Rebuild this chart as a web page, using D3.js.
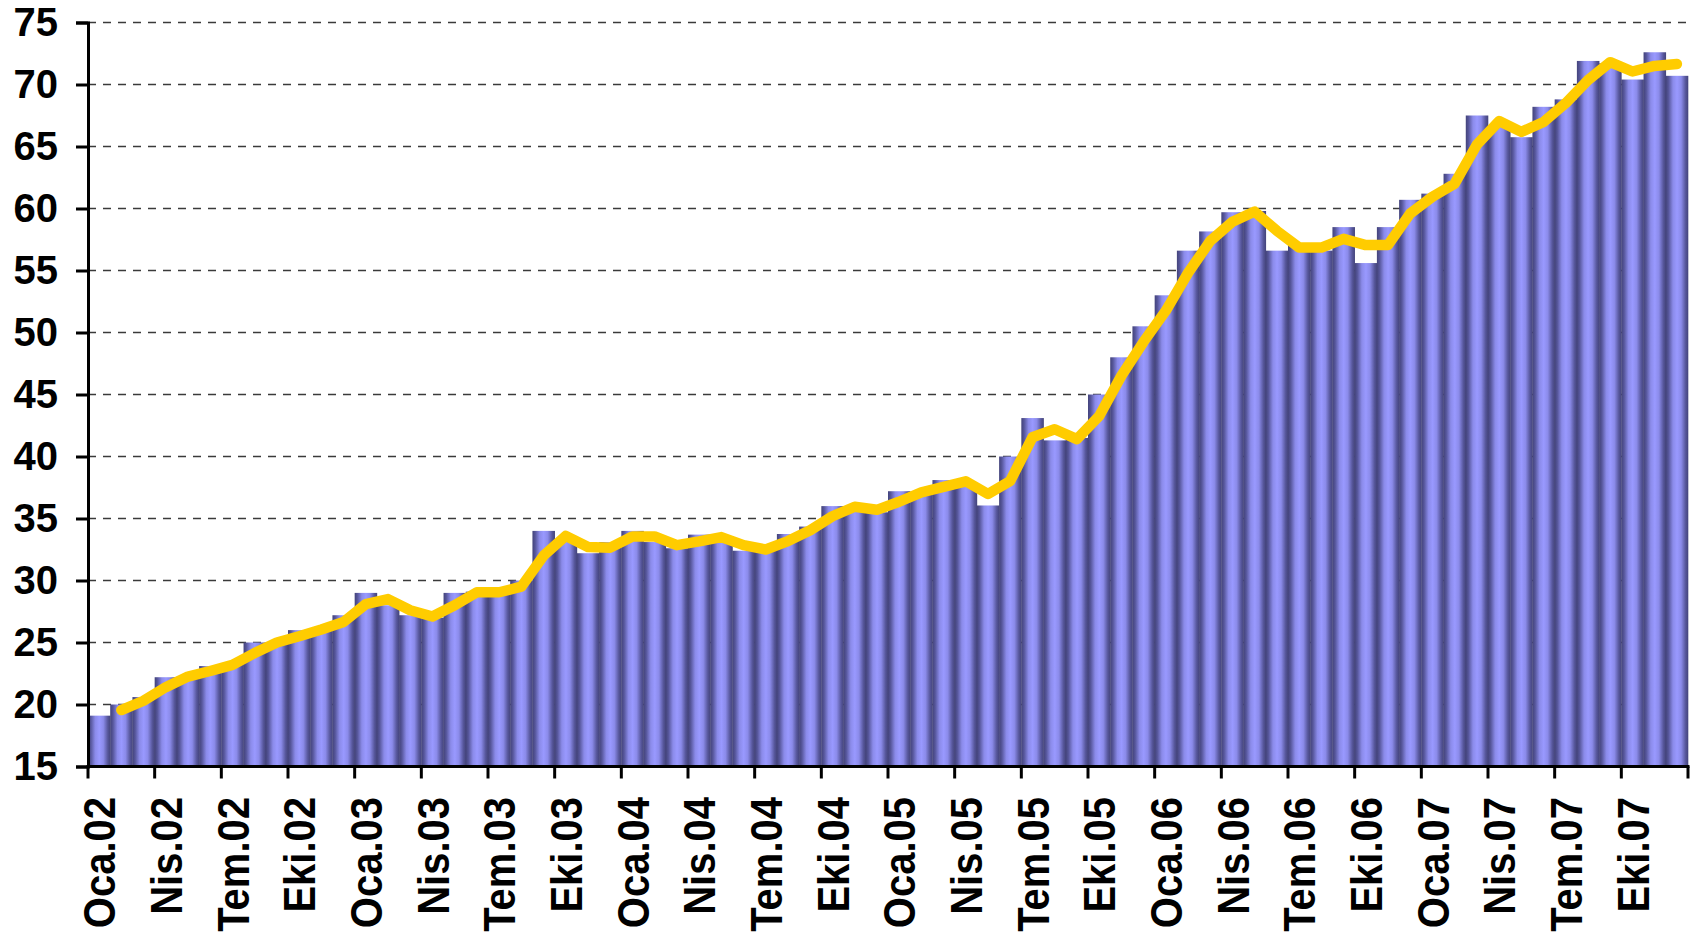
<!DOCTYPE html>
<meta charset="utf-8">
<style>
    body {
        margin: 0;
        background: #fff;
    }

    .axis text {
        font-family: "Liberation Sans", Arial, sans-serif;
        font-weight: bold;
        fill: #000;
    }

    .grid line {
        stroke: #3a3a3a;
        stroke-width: 1.5;
        stroke-dasharray: 8, 7;
    }
</style>
<svg class="chart"></svg>
<script src="https://cdn.jsdelivr.net/npm/d3@7"></script>
<script>

    // month names (Turkish) and years shown on the x axis
    const months = ["Oca", "Şub", "Mar", "Nis", "May", "Haz", "Tem", "Ağu", "Eyl", "Eki", "Kas", "Ara"];
    const years = ["02", "03", "04", "05", "06", "07"];

    // monthly bar values, Oca.02 .. Ara.07
    const barValues = [
        19.1, 20.0, 20.6, 22.2, 22.3, 23.1, 23.3, 25.0, 25.0, 26.0, 26.1, 27.2,
        29.0, 28.0, 27.2, 27.0, 29.0, 29.1, 29.0, 30.0, 34.0, 33.2, 32.2, 33.1,
        34.0, 33.1, 32.6, 33.7, 33.3, 32.4, 32.6, 33.75, 34.35, 36.0, 35.9, 35.5,
        37.2, 37.0, 38.1, 37.9, 36.05, 40.0, 43.1, 41.3, 41.5, 45.0, 48.0, 50.5,
        53.0, 56.6, 58.15, 59.7, 59.8, 56.6, 57.1, 56.6, 58.5, 55.6, 58.5, 60.7,
        61.2, 62.8, 67.5, 66.6, 65.75, 68.2, 68.8, 71.9, 71.7, 70.4, 72.6, 70.7
    ];

    // yellow trend line, starts at Şub.02
    const lineValues = [
        19.55, 20.3, 21.4, 22.25, 22.7, 23.2, 24.15, 25.0, 25.5, 26.05, 26.65,
        28.1, 28.5, 27.6, 27.1, 28.0, 29.05, 29.05, 29.5, 32.0, 33.6, 32.7, 32.65,
        33.55, 33.55, 32.85, 33.15, 33.5, 32.85, 32.5, 33.18, 34.05, 35.18, 35.95, 35.7,
        36.35, 37.1, 37.55, 38.0, 36.98, 38.03, 41.55, 42.2, 41.4, 43.25, 46.5, 49.25,
        51.75, 54.8, 57.38, 58.93, 59.75, 58.2, 56.85, 56.85, 57.55, 57.05, 57.05, 59.6,
        60.95, 62.0, 65.15, 67.05, 66.18, 66.98, 68.5, 70.35, 71.8, 71.05, 71.5, 71.65
    ];

    const yTicks = [15, 20, 25, 30, 35, 40, 45, 50, 55, 60, 65, 70, 75];

    const categories = [];
    years.forEach(yy => months.forEach(m => categories.push(m + "." + yy)));

    const W = 1700, H = 950;
    const plot = {left: 88, right: 1688, top: 22.5, bottom: 766.5};

    let svg = d3.select(".chart")
        .attr("width", W)
        .attr("height", H);

    // bar shading: dark edges, light middle
    let grad = svg.append("defs").append("linearGradient")
        .attr("id", "barGrad")
        .attr("x1", 0).attr("x2", 1).attr("y1", 0).attr("y2", 0);
    [[0, "#43437a"], [0.12, "#56569a"], [0.32, "#8b8bea"], [0.5, "#9999ff"], [0.68, "#8b8bea"], [0.88, "#56569a"], [1, "#43437a"]]
        .forEach(s => grad.append("stop").attr("offset", s[0]).attr("stop-color", s[1]));

    let x = d3.scaleBand()
        .domain(categories)
        .range([plot.left, plot.right])
        .padding(0);

    let y = d3.scaleLinear()
        .domain([15, 75])
        .range([plot.bottom, plot.top]);

    // dashed grid
    svg.append("g")
        .attr("class", "grid")
        .selectAll("line")
        .data(yTicks.filter(d => d > 15))
        .join("line")
        .attr("x1", plot.left)
        .attr("x2", plot.right)
        .attr("y1", d => y(d))
        .attr("y2", d => y(d));

    // bars
    svg.append("g")
        .selectAll("rect")
        .data(barValues)
        .join("rect")
        .attr("x", (d, i) => x(categories[i]))
        .attr("width", x.bandwidth() + 0.3)
        .attr("y", d => y(d))
        .attr("height", d => y(15) - y(d))
        .attr("fill", "url(#barGrad)");

    // trend line
    let line = d3.line()
        .x((d, i) => x(categories[i + 1]) + x.bandwidth() / 2)
        .y(d => y(d));

    svg.append("path")
        .datum(lineValues)
        .attr("d", line)
        .attr("fill", "none")
        .attr("stroke", "#ffcc00")
        .attr("stroke-width", 10.5)
        .attr("stroke-linecap", "round")
        .attr("stroke-linejoin", "round");

    // y axis
    let yAxis = d3.axisLeft(y)
        .tickValues(yTicks)
        .tickSize(12)
        .tickPadding(18);

    let gy = svg.append("g")
        .attr("class", "axis")
        .attr("transform", `translate(${plot.left},0)`)
        .call(yAxis);
    gy.select(".domain").attr("stroke", "#000").attr("stroke-width", 3);
    gy.selectAll(".tick line").attr("stroke", "#000").attr("stroke-width", 3);
    gy.selectAll(".tick text").style("font-size", "40px");

    // x axis: ticks every quarter on band edges, labels on first month of quarter
    const quarterEdges = d3.range(0, categories.length + 1, 3);
    let gx = svg.append("g").attr("class", "axis");

    gx.append("line")
        .attr("x1", plot.left - 1.5).attr("x2", plot.right + 1.5)
        .attr("y1", plot.bottom).attr("y2", plot.bottom)
        .attr("stroke", "#000").attr("stroke-width", 3);

    gx.selectAll("line.tick")
        .data(quarterEdges)
        .join("line")
        .attr("class", "tick")
        .attr("x1", i => i < categories.length ? x(categories[i]) : plot.right)
        .attr("x2", i => i < categories.length ? x(categories[i]) : plot.right)
        .attr("y1", plot.bottom)
        .attr("y2", plot.bottom + 12)
        .attr("stroke", "#000")
        .attr("stroke-width", 3);

    gx.selectAll("text")
        .data(categories.filter((c, i) => i % 3 === 0))
        .join("text")
        .attr("transform", d => `translate(${x(d) + x.bandwidth() / 2},797) rotate(-90) scale(1,1.12)`)
        .attr("text-anchor", "end")
        .attr("dy", "0.36em")
        .style("font-size", "40px")
        .text(d => d);

</script>
